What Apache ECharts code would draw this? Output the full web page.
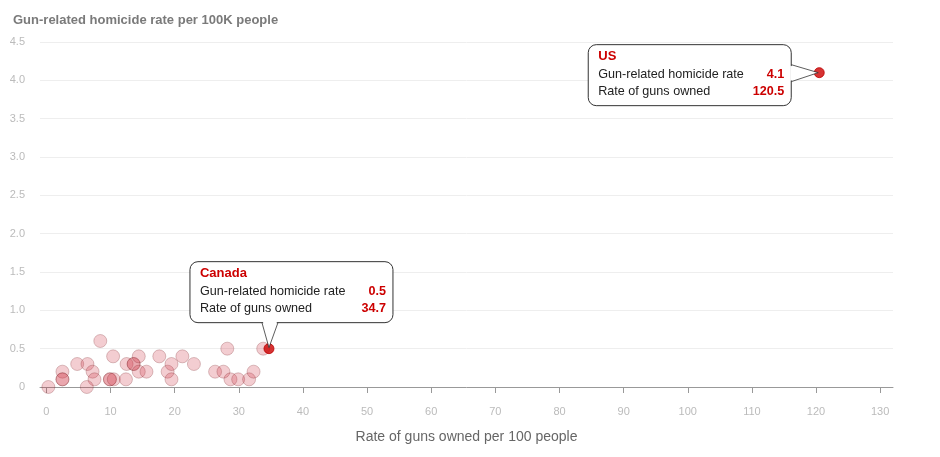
<!DOCTYPE html>
<html>
<head>
<meta charset="utf-8">
<script src="https://cdn.jsdelivr.net/npm/echarts@6/dist/echarts.min.js"></script>
<style>
  html, body { margin: 0; padding: 0; background: #fff; }
  #chart { width: 940px; height: 457px; }
</style>
</head>
<body>
<div id="chart"></div>
<script>
// rate of guns owned per 100 people (x) and gun-related homicide rate (y), other countries
const gunsOwned = [0.3, 2.5, 2.5, 2.5, 4.8, 6.4, 7.2, 7.5, 6.3, 8.4, 9.9, 9.9, 10.5, 10.4, 12.4, 12.5,
  13.6, 13.6, 14.4, 14.4, 15.6, 17.6, 18.9, 19.5, 19.5, 21.2, 23.0, 26.3, 27.6, 28.2, 28.7, 29.9,
  31.6, 32.3, 33.8]
const homicideRate = [0, 0.2, 0.1, 0.1, 0.3, 0.3, 0.2, 0.1, 0, 0.6, 0.1, 0.1, 0.1, 0.4, 0.1, 0.3,
  0.3, 0.3, 0.4, 0.2, 0.2, 0.4, 0.2, 0.3, 0.1, 0.4, 0.3, 0.2, 0.2, 0.5, 0.1, 0.1,
  0.1, 0.2, 0.5]

// highlighted countries
const hlNames = ['Canada', 'US']
const hlGuns = [34.7, 120.5]
const hlHomicide = [0.5, 4.1]

const xTicks = [0, 10, 20, 30, 40, 50, 60, 70, 80, 90, 100, 110, 120, 130]

const RED = '#cc0000'
const FONT = '"Liberation Sans", Arial, sans-serif'

const chart = echarts.init(document.getElementById('chart'), null, { renderer: 'canvas' })

const option = {
  animation: false,
  backgroundColor: '#fff',
  title: {
    text: 'Gun-related homicide rate per 100K people',
    left: 8,
    top: 9,
    textStyle: { fontFamily: FONT, fontSize: 13, fontWeight: 'bold', color: '#7a7a7a' },
  },
  grid: { left: 40, right: 47, top: 42, bottom: 70 },
  xAxis: {
    type: 'value',
    min: -1,
    max: 132,
    name: 'Rate of guns owned per 100 people',
    nameLocation: 'middle',
    nameGap: 43,
    nameTextStyle: { fontFamily: FONT, fontSize: 14, color: '#666' },
    axisLine: { lineStyle: { color: '#999' } },
    axisTick: { customValues: xTicks, length: 6, lineStyle: { color: '#999' } },
    axisLabel: { customValues: xTicks, margin: 19, fontFamily: FONT, fontSize: 11, color: '#bbb' },
    splitLine: { show: false },
  },
  yAxis: {
    type: 'value',
    min: 0,
    max: 4.5,
    interval: 0.5,
    axisLine: { show: false },
    axisTick: { show: false },
    axisLabel: {
      margin: 15,
      fontFamily: FONT,
      fontSize: 11,
      color: '#bbb',
      formatter: (v) => (v === 0 ? '0' : v.toFixed(1)),
    },
    splitLine: { lineStyle: { color: '#eeeeee' } },
  },
  series: [
    {
      type: 'scatter',
      symbolSize: 13,
      data: gunsOwned.map((g, i) => [g, homicideRate[i]]),
      itemStyle: {
        color: 'rgba(205, 50, 65, 0.3)',
        borderColor: 'rgba(110, 20, 25, 0.3)',
        borderWidth: 1,
      },
      z: 2,
    },
    {
      type: 'scatter',
      symbolSize: 10,
      data: hlGuns.map((g, i) => [g, hlHomicide[i]]),
      itemStyle: { color: RED, borderColor: '#b00', borderWidth: 1 },
      z: 3,
    },
  ],
}
chart.setOption(option)

// callout boxes anchored to the highlighted points
function callout(i, box, pointer) {
  const [px, py] = chart.convertToPixel({ gridIndex: 0 }, [hlGuns[i], hlHomicide[i]])
  const bx = px + box.dx, by = py + box.dy
  const w = 203, h = 61
  let tri
  if (pointer === 'bottom') {
    tri = [[px - 7, by + h], [px, py - 1], [px + 9, by + h]]
  } else {
    tri = [[bx + w, py - 8], [px - 1, py], [bx + w, py + 9]]
  }
  const cover = pointer === 'bottom'
    ? [[tri[0][0] + 1, tri[0][1] - 1], tri[1], [tri[2][0] - 1, tri[2][1] - 1]]
    : [[tri[0][0] - 1, tri[0][1] + 1], tri[1], [tri[2][0] - 1, tri[2][1] - 1]]
  const txt = (x, y, text, extra) => ({
    type: 'text',
    x, y,
    style: Object.assign({
      text, fontFamily: FONT, fontSize: 12.6, fill: '#222', textVerticalAlign: 'middle',
    }, extra || {}),
    z: 103,
  })
  return [
    {
      type: 'rect',
      shape: { x: bx, y: by, width: w, height: h, r: 8 },
      style: { fill: '#fff', stroke: '#333', lineWidth: 1 },
      z: 100,
    },
    {
      type: 'polygon',
      shape: { points: cover },
      style: { fill: '#fff' },
      z: 101,
    },
    {
      type: 'polyline',
      shape: { points: tri },
      style: { stroke: '#333', lineWidth: 0.8, fill: null },
      z: 102,
    },
    txt(bx + 10, by + 12, hlNames[i], { fill: RED, fontWeight: 'bold', fontSize: 13 }),
    txt(bx + 10, by + 30, 'Gun-related homicide rate'),
    txt(bx + w - 7, by + 30, hlHomicide[i].toFixed(1), { fill: RED, fontWeight: 'bold', textAlign: 'right' }),
    txt(bx + 10, by + 47, 'Rate of guns owned'),
    txt(bx + w - 7, by + 47, hlGuns[i].toFixed(1), { fill: RED, fontWeight: 'bold', textAlign: 'right' }),
  ]
}

chart.setOption({
  graphic: [].concat(
    callout(0, { dx: -79, dy: -87 }, 'bottom'),
    callout(1, { dx: -231, dy: -28 }, 'right')
  ),
})
</script>
</body>
</html>
